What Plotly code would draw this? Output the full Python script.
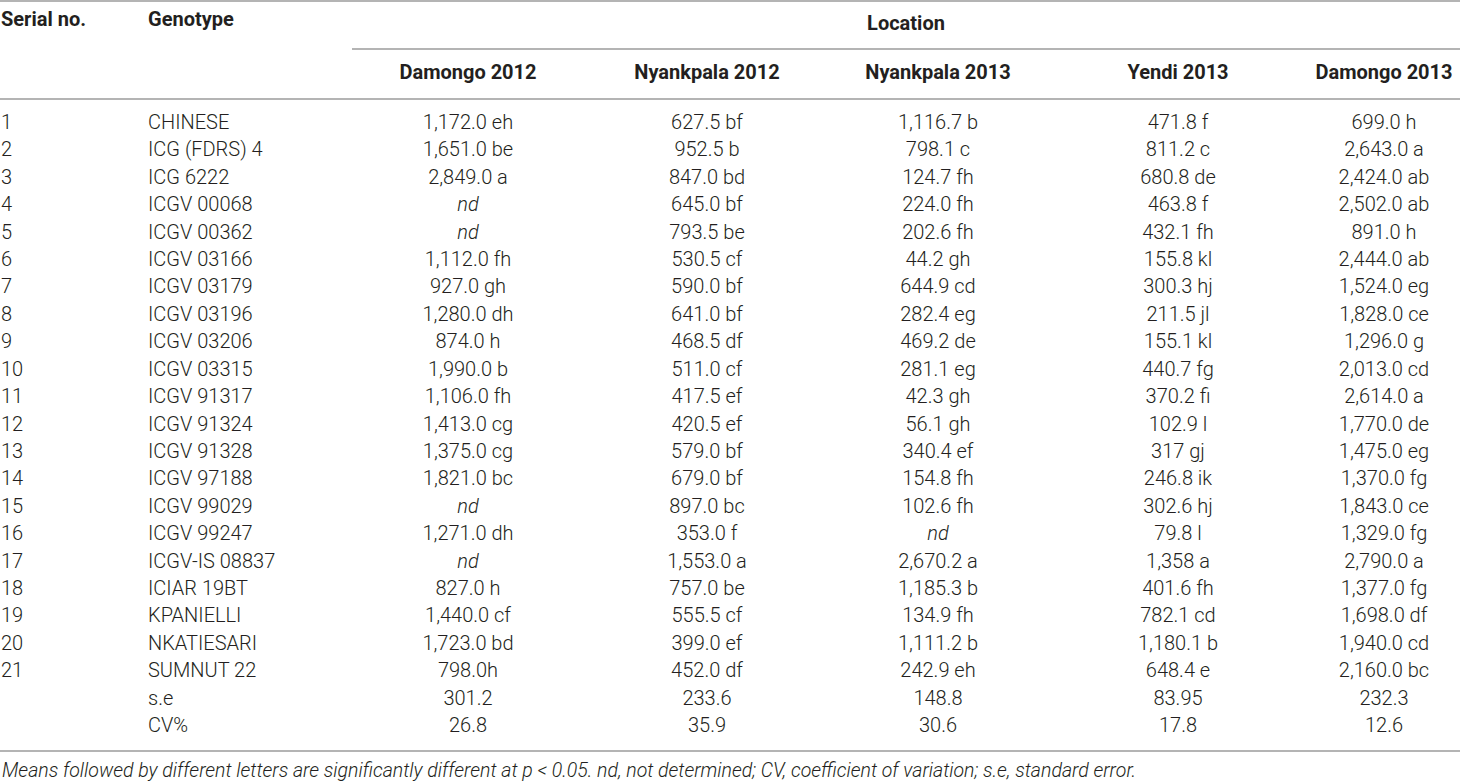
import plotly.graph_objects as go

# ---- table data ----
serial_no = [str(i) for i in range(1, 22)] + ["", ""]
genotypes = [
    "CHINESE", "ICG (FDRS) 4", "ICG 6222", "ICGV 00068", "ICGV 00362",
    "ICGV 03166", "ICGV 03179", "ICGV 03196", "ICGV 03206", "ICGV 03315",
    "ICGV 91317", "ICGV 91324", "ICGV 91328", "ICGV 97188", "ICGV 99029",
    "ICGV 99247", "ICGV-IS 08837", "ICIAR 19BT", "KPANIELLI", "NKATIESARI",
    "SUMNUT 22", "s.e", "CV%",
]
locations = ["Damongo 2012", "Nyankpala 2012", "Nyankpala 2013", "Yendi 2013", "Damongo 2013"]

damongo_2012 = [
    "1,172.0 eh", "1,651.0 be", "2,849.0 a", "nd", "nd", "1,112.0 fh", "927.0 gh",
    "1,280.0 dh", "874.0 h", "1,990.0 b", "1,106.0 fh", "1,413.0 cg", "1,375.0 cg",
    "1,821.0 bc", "nd", "1,271.0 dh", "nd", "827.0 h", "1,440.0 cf", "1,723.0 bd",
    "798.0h", "301.2", "26.8",
]
nyankpala_2012 = [
    "627.5 bf", "952.5 b", "847.0 bd", "645.0 bf", "793.5 be", "530.5 cf", "590.0 bf",
    "641.0 bf", "468.5 df", "511.0 cf", "417.5 ef", "420.5 ef", "579.0 bf", "679.0 bf",
    "897.0 bc", "353.0 f", "1,553.0 a", "757.0 be", "555.5 cf", "399.0 ef", "452.0 df",
    "233.6", "35.9",
]
nyankpala_2013 = [
    "1,116.7 b", "798.1 c", "124.7 fh", "224.0 fh", "202.6 fh", "44.2 gh", "644.9 cd",
    "282.4 eg", "469.2 de", "281.1 eg", "42.3 gh", "56.1 gh", "340.4 ef", "154.8 fh",
    "102.6 fh", "nd", "2,670.2 a", "1,185.3 b", "134.9 fh", "1,111.2 b", "242.9 eh",
    "148.8", "30.6",
]
yendi_2013 = [
    "471.8 f", "811.2 c", "680.8 de", "463.8 f", "432.1 fh", "155.8 kl", "300.3 hj",
    "211.5 jl", "155.1 kl", "440.7 fg", "370.2 fi", "102.9 l", "317 gj", "246.8 ik",
    "302.6 hj", "79.8 l", "1,358 a", "401.6 fh", "782.1 cd", "1,180.1 b", "648.4 e",
    "83.95", "17.8",
]
damongo_2013 = [
    "699.0 h", "2,643.0 a", "2,424.0 ab", "2,502.0 ab", "891.0 h", "2,444.0 ab",
    "1,524.0 eg", "1,828.0 ce", "1,296.0 g", "2,013.0 cd", "2,614.0 a", "1,770.0 de",
    "1,475.0 eg", "1,370.0 fg", "1,843.0 ce", "1,329.0 fg", "2,790.0 a", "1,377.0 fg",
    "1,698.0 df", "1,940.0 cd", "2,160.0 bc", "232.3", "12.6",
]
footnote = ("Means followed by different letters are significantly different at p < 0.05. "
            "nd, not determined; CV, coefficient of variation; s.e, standard error.")

# ---- layout constants (pixel space, origin top-left) ----
W, H = 1460, 782
FONT = "Roboto, Liberation Sans, Arial, sans-serif"
TXT = "#231f20"
RULE = "#9b9b9b"
ROW0, ROW_STEP = 124, 27.41
value_cols = [damongo_2012, nyankpala_2012, nyankpala_2013, yendi_2013, damongo_2013]
col_x = [468, 707, 938, 1178, 1384]
SERIAL_X, GENO_X = 1, 148
SPAN_X0 = 352


def fmt(v):
    return "<i>nd</i>" if v == "nd" else v


body_font = dict(family=FONT, size=20, color=TXT, weight=300)
head_font = dict(family=FONT, size=20, color=TXT, weight="bold")
row_y = [ROW0 + i * ROW_STEP for i in range(len(genotypes))]

fig = go.Figure()

# body: left-aligned columns
fig.add_trace(go.Scatter(x=[SERIAL_X] * len(serial_no), y=row_y, text=serial_no,
                         mode="text", textposition="middle right", textfont=body_font))
fig.add_trace(go.Scatter(x=[GENO_X] * len(genotypes), y=row_y, text=genotypes,
                         mode="text", textposition="middle right", textfont=body_font))
# body: centred value columns
for cx, col in zip(col_x, value_cols):
    fig.add_trace(go.Scatter(x=[cx] * len(col), y=row_y, text=[fmt(v) for v in col],
                             mode="text", textposition="middle center", textfont=body_font))

# header
fig.add_trace(go.Scatter(x=[SERIAL_X, GENO_X], y=[21, 21], text=["Serial no.", "Genotype"],
                         mode="text", textposition="middle right", textfont=head_font))
fig.add_trace(go.Scatter(x=[(SPAN_X0 + W) / 2], y=[25], text=["Location"], mode="text",
                         textposition="middle center", textfont=head_font))
fig.add_trace(go.Scatter(x=col_x, y=[74] * len(locations), text=locations,
                         mode="text", textposition="middle center", textfont=head_font))
fig.update_traces(hoverinfo="skip", showlegend=False, cliponaxis=False)

# rules
for x0, y in [(0, 1), (SPAN_X0, 49), (0, 99), (0, 751)]:
    fig.add_shape(type="line", x0=x0, x1=W, y0=y, y1=y, line=dict(color=RULE, width=1.6))

fig.add_annotation(x=0, y=770, text=f"<i>{footnote}</i>", showarrow=False, xanchor="left",
                   yanchor="middle", font=dict(family=FONT, size=19.5, color=TXT, weight=300))

fig.update_xaxes(range=[0, W], visible=False, fixedrange=True)
fig.update_yaxes(range=[H, 0], visible=False, fixedrange=True)
fig.update_layout(width=W, height=H, margin=dict(l=0, r=0, t=0, b=0),
                  plot_bgcolor="white", paper_bgcolor="white")

# drop the page's default 8px body margin so the figure sits at the window corner
fig.write_html("out.html", config={"displayModeBar": False},
               post_script="document.body.style.margin = '0';")
